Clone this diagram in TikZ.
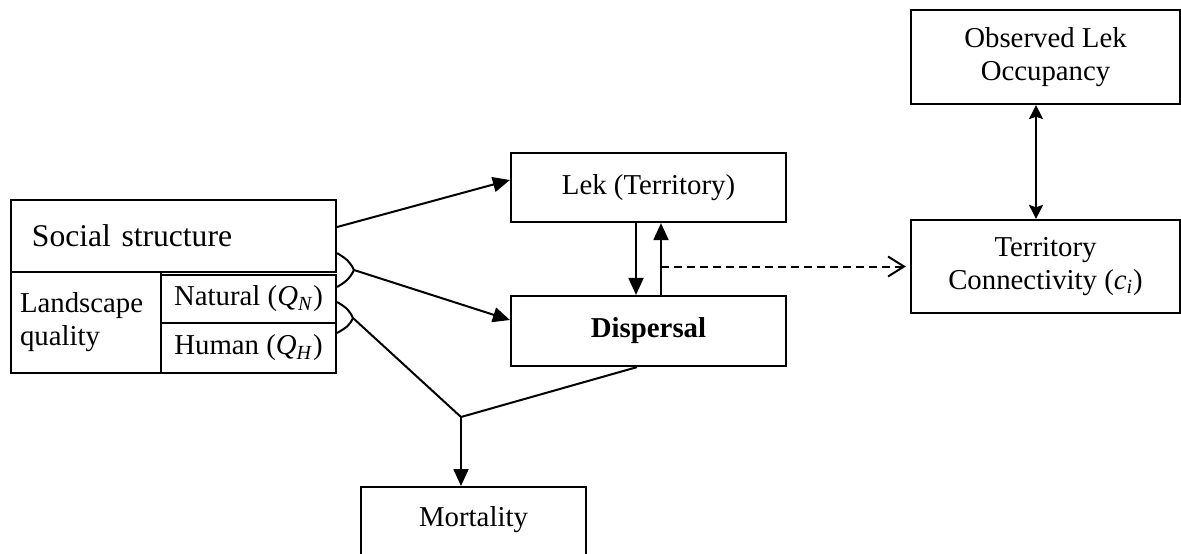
\documentclass[tikz,border=0pt]{standalone}
\usepackage{fontspec}
\setmainfont{Liberation Serif}
\usetikzlibrary{arrows.meta}
\begin{document}
\begin{tikzpicture}[x=0.5pt,y=-0.5pt, line width=1pt,
  box/.style={draw, line width=1.1pt, rectangle, inner sep=0pt, align=center, font=\fontsize{14.4}{16.5}\selectfont},
  arr/.style={-{Triangle[length=8.5pt,width=7.5pt]}},
  dasharr/.style={dash pattern=on 4pt off 2.5pt, -{Straight Barb[length=8pt,width=10pt]}, shorten >=2pt},
  dblarr/.style={{Stealth[length=7pt,width=7pt,inset=1.2pt]}-{Stealth[length=7pt,width=7pt,inset=1.2pt]}}]
\useasboundingbox (0,0) rectangle (1181,553);
\clip (0,0) rectangle (1181,553);

% left block
\node[box, minimum width=162.5pt, minimum height=36pt, text width=141.5pt, inner xsep=10.5pt, align=left, font=\fontsize{15.8}{18}\selectfont] (social) at (173.5,236) {Social structure};
\node[box, minimum width=75pt, minimum height=50.5pt, text width=66pt, inner xsep=4.5pt, align=left] (land) at (86,322.5) {Landscape\\quality};
\node[box, minimum width=87.5pt, minimum height=24pt] (nat) at (248.5,299) {Natural (\textit{Q}\textsubscript{\textit{N}})};
\node[box, minimum width=87.5pt, minimum height=25pt] (hum) at (248.5,348) {Human (\textit{Q}\textsubscript{\textit{H}})};

% middle
\node[box, minimum width=137.5pt, minimum height=34.5pt] (lek) at (648.5,187.5) {Lek (Territory)};
\node[box, minimum width=137.5pt, minimum height=35pt] (disp) at (648.5,331) {\textbf{Dispersal}};
\node[box, anchor=north, minimum width=112.5pt, text height=19.5pt, text depth=30pt, inner ysep=0pt] (mort) at (473.5,486) {Mortality};

% right
\node[box, minimum width=134.5pt, minimum height=47pt] (obs) at (1045.5,57) {Observed Lek\\Occupancy};
\node[box, minimum width=134.5pt, minimum height=46.5pt] (terr) at (1045.5,266.5) {Territory\\Connectivity (\textit{c}\textsubscript{\textit{i}})};

% brackets
\coordinate (a1) at (354,270);
\coordinate (a2) at (353,318);
\coordinate (j) at (461,417);
\draw ([yshift=10pt]social.south east) .. controls +(10,6) and +(-4,-8) .. (a1) .. controls +(-4,8) and +(10,-6) .. ([yshift=6pt]nat.east);
\draw ([yshift=-1.5pt]nat.east) .. controls +(10,6) and +(-4,-8) .. (a2) .. controls +(-4,8) and +(10,-6) .. ([yshift=7.5pt]hum.east);

% connectors
\draw[arr] ([yshift=4.5pt]social.east) -- ([yshift=3.75pt]lek.west);
\draw[arr] (a1) -- ([yshift=5.5pt]disp.west);
\draw (a2) -- (j);
\draw ([xshift=-5.75pt]disp.south) -- (j);
\draw[arr] (j) -- (j |- mort.north);
\draw[arr] ([xshift=-6.25pt]lek.south) -- ([xshift=-6.25pt]disp.north);
\draw[arr] ([xshift=6.25pt]disp.north) -- ([xshift=6.25pt]lek.south);
\draw[dasharr] ([xshift=6.25pt]disp.north |- terr.west) -- (terr.west);
\draw[dblarr] ([xshift=-4.75pt]obs.south) -- ([xshift=-4.75pt]terr.north);
\end{tikzpicture}
\end{document}
